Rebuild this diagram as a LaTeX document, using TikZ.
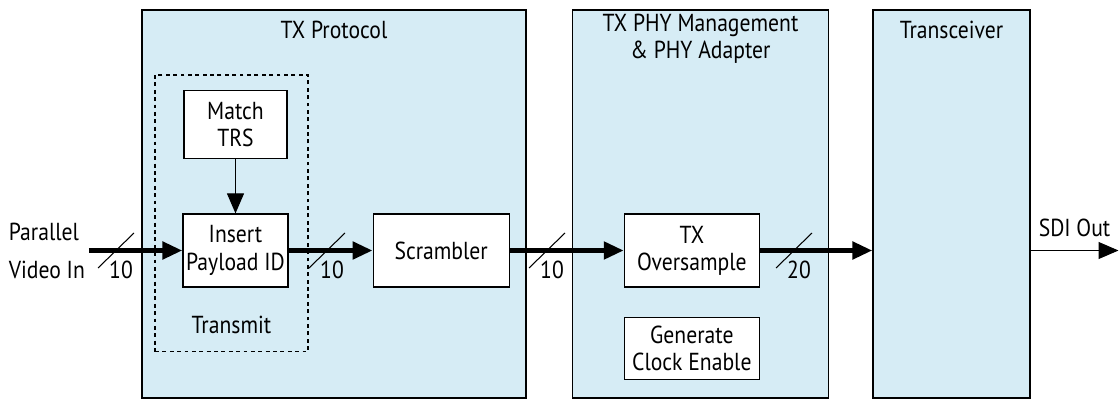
\documentclass[tikz,border=0pt]{standalone}
\usepackage{fontspec}
\setmainfont{PT Sans}[FakeStretch=0.88]
\usetikzlibrary{arrows.meta,positioning}
\definecolor{panelblue}{RGB}{214,236,245}
\tikzstyle{panel} = [rectangle, draw=black, fill=panelblue, line width=0.7pt]
\tikzstyle{block} = [rectangle, draw=black, fill=white, line width=0.7pt, align=center, inner sep=0pt]
\tikzstyle{bus} = [line width=2.8pt, -{Triangle[length=0.4cm,width=0.34cm]}]
\tikzstyle{wire} = [line width=0.6pt, -{Triangle[length=0.4cm,width=0.34cm]}]
\tikzstyle{widthmark} = [line width=0.6pt]

\begin{document}
\begin{tikzpicture}[x=0.02cm, y=-0.02cm, font=\fontsize{14}{15.5}\selectfont]
   \useasboundingbox (0,0) rectangle (1119,408);
   % panels
   \node (protocol) [panel, minimum width=7.68cm, minimum height=7.76cm] at (334,204) {};
   \node (phy) [panel, minimum width=5.12cm, minimum height=7.76cm] at (700.5,204) {};
   \node (xcvr) [panel, minimum width=3.14cm, minimum height=7.76cm] at (951.5,204) {};
   \node (protocoltitle) at (334,30) {TX Protocol};
   \node (phytitle) [align=center] at (700.5,39) {TX PHY Management\\\& PHY Adapter};
   \node (xcvrtitle) at (951.5,30) {Transceiver};
   % transmit group
   \node (transmit) [draw, dashed, dash pattern=on 2.2pt off 2pt, line width=0.6pt, minimum width=3.06cm, minimum height=5.54cm] at (231.5,213.5) {};
   \node (transmitlabel) at (231.5,325) {Transmit};
   % blocks
   \node (insert) [block, minimum width=2.1cm, minimum height=1.46cm] at (235.5,250.5) {Insert\\Payload ID};
   \node (match) [block, minimum width=2.06cm, minimum height=1.36cm, above=1.08cm of insert] {Match\\TRS};
   \node (scrambler) [block, minimum width=2.72cm, minimum height=1.46cm, right=1.68cm of insert] {Scrambler};
   \node (oversample) [block, minimum width=2.7cm, minimum height=1.46cm, right=2.28cm of scrambler] {TX\\Oversample};
   \node (clocken) [block, minimum width=2.7cm, minimum height=1.24cm, below=0.58cm of oversample] {Generate\\Clock Enable};
   \node (vidin) [align=left, anchor=west, inner sep=2pt, font=\fontsize{14}{21.5}\selectfont] at (5,251) {Parallel\\Video In};
   \coordinate (sdiout) at (1118.5,250.5);
   % connectors
   \draw [bus] (vidin.east |- insert.west) -- (insert.west);
   \draw [bus] (insert.east) -- (scrambler.west);
   \draw [bus] (scrambler.east) -- (oversample.west);
   \draw [bus] (oversample.east) -- (oversample.east -| xcvr.west);
   \draw [wire] (match) -- (insert);
   \draw [wire] (sdiout -| xcvr.east) -- node[midway, above=4pt] (sdilabel) {SDI Out} (sdiout);
   % bus widths
   \foreach \x/\w in {116/10, 327/10, 547/10, 794/20} {
      \draw [widthmark] (\x-18,268) -- (\x+18,233);
      \node (width\x) at (\x+5,270) {\w};
   }
\end{tikzpicture}
\end{document}
